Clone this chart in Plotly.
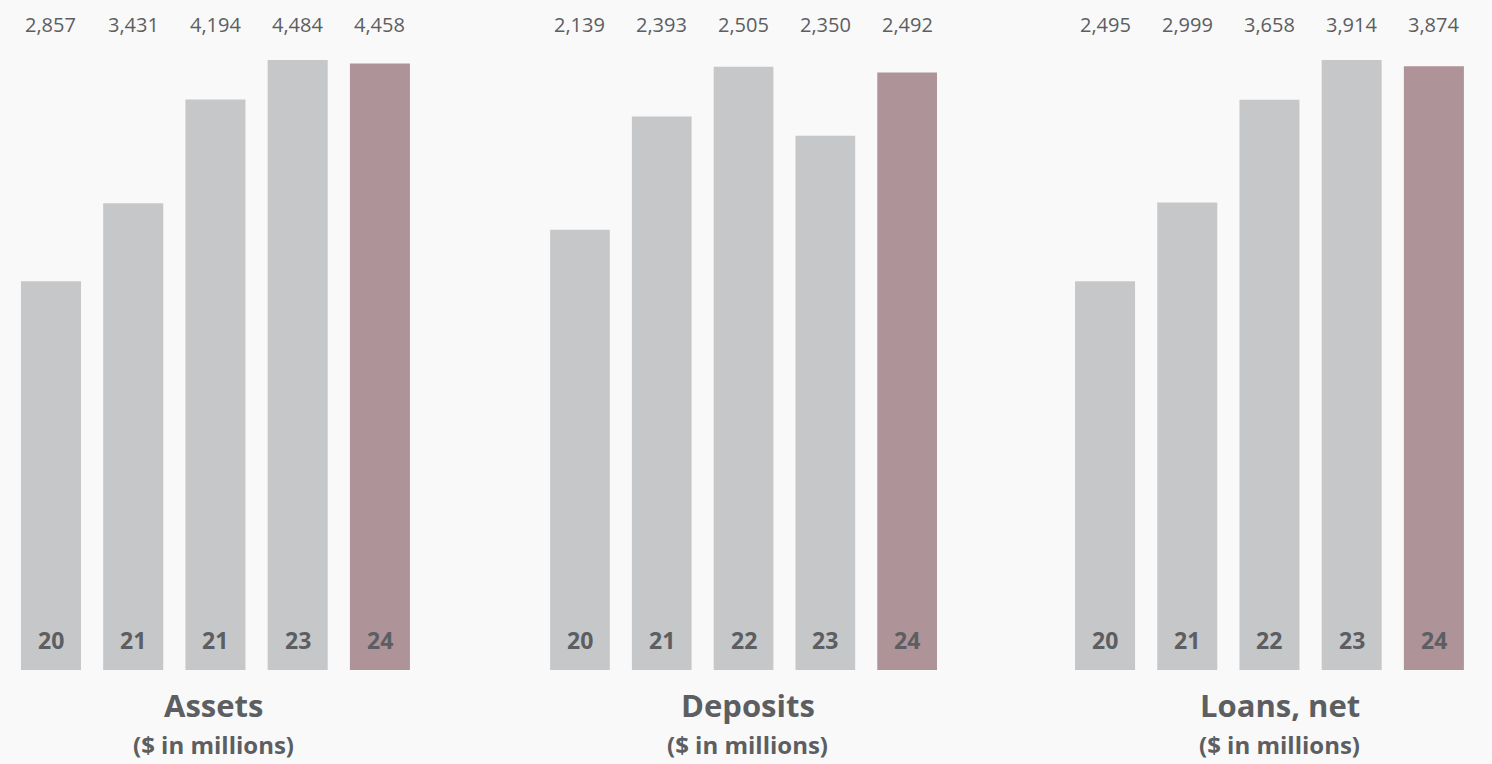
import plotly.graph_objects as go

# ---- data ----
panel_titles = ["Assets", "Deposits", "Loans, net"]
subtitle = "($ in millions)"
years_assets = ["20", "21", "21", "23", "24"]
years_deposits = ["20", "21", "22", "23", "24"]
years_loans = ["20", "21", "22", "23", "24"]
assets = [2857, 3431, 4194, 4484, 4458]
deposits = [2139, 2393, 2505, 2350, 2492]
loans = [2495, 2999, 3658, 3914, 3874]

GREY = "#c6c7c9"
HIGHLIGHT = "#ae9399"
TEXT = "#5c5e62"
FONT = "Open Sans"

panels = [
    (years_assets, assets, [0, 4484], [0.0066, 0.2822], 0.1434),
    (years_deposits, deposits, [1150, 2520], [0.3613, 0.6354], 0.5013),
    (years_loans, loans, [0, 3914], [0.7131, 0.9886], 0.8579),
]

fig = go.Figure()
annotations = []
for k, (yrs, vals, yr, dom, tx) in enumerate(panels):
    xa = "x" if k == 0 else f"x{k+1}"
    ya = "y" if k == 0 else f"y{k+1}"
    xs = list(range(len(vals)))
    colors = [GREY] * (len(vals) - 1) + [HIGHLIGHT]
    fig.add_trace(go.Bar(x=xs, y=vals, marker=dict(color=colors, line=dict(width=0)),
                         xaxis=xa, yaxis=ya, hoverinfo="skip", showlegend=False))
    axk = "" if k == 0 else str(k + 1)
    fig.update_layout(**{
        f"xaxis{axk}": dict(domain=dom, anchor=ya, range=[-0.5, len(vals) - 0.5],
                            showticklabels=False, showgrid=False, zeroline=False, showline=False,
                            fixedrange=True),
        f"yaxis{axk}": dict(domain=[0.123, 0.9215], anchor=xa, range=yr,
                            showticklabels=False, showgrid=False, zeroline=False, showline=False,
                            fixedrange=True),
    })
    for i, (y_lab, v) in enumerate(zip(yrs, vals)):
        annotations.append(dict(x=i, y=0.9673, xref=xa, yref="paper", text=f"{v:,}",
                                showarrow=False, font=dict(family=FONT, size=20, color=TEXT),
                                xanchor="center", yanchor="middle"))
        annotations.append(dict(x=i, y=0.1623, xref=xa, yref="paper", text=f"<b>{y_lab}</b>",
                                showarrow=False, font=dict(family=FONT, size=23, color=TEXT),
                                xanchor="center", yanchor="middle"))
    annotations.append(dict(x=tx, y=0.0772, xref="paper", yref="paper",
                            text=f"<b>{panel_titles[k]}</b>", showarrow=False,
                            font=dict(family=FONT, size=31, color=TEXT),
                            xanchor="center", yanchor="middle"))
    annotations.append(dict(x=tx, y=0.0249, xref="paper", yref="paper",
                            text=f"<b>{subtitle}</b>", showarrow=False,
                            font=dict(family=FONT, size=24, color=TEXT),
                            xanchor="center", yanchor="middle"))

fig.update_layout(
    width=1492, height=764,
    margin=dict(l=0, r=0, t=0, b=0),
    paper_bgcolor="#f9f9f9", plot_bgcolor="#f9f9f9",
    bargap=0.27,
    annotations=annotations,
)
fig.write_html("out.html", config={"displayModeBar": False})
